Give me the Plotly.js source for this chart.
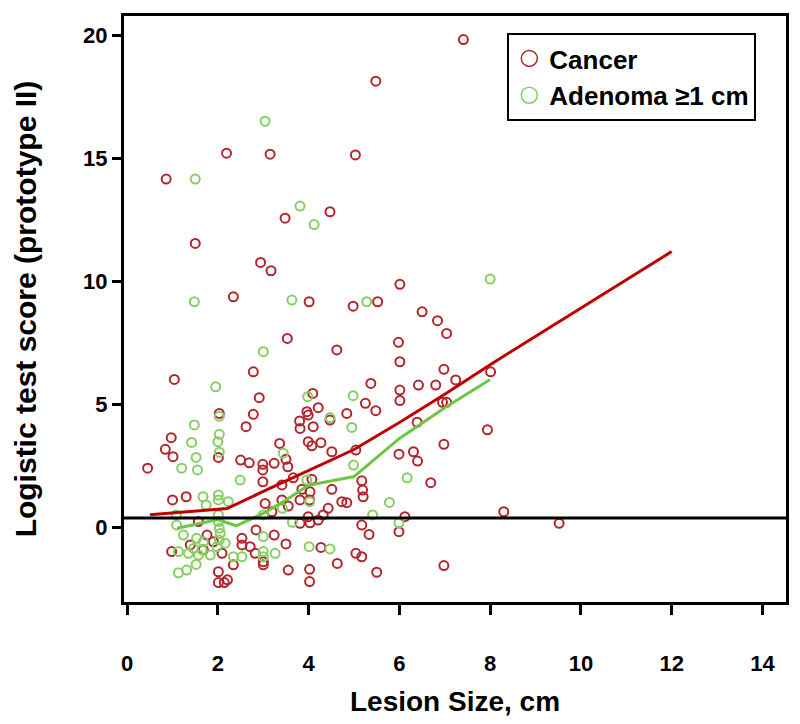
<!DOCTYPE html>
<html>
<head>
<meta charset="utf-8">
<script src="https://cdn.plot.ly/plotly-3.0.1.min.js"></script>
<style>
  body { margin: 0; background: #fff; }
</style>
</head>
<body>
<div id="scatter-plot" style="width:800px;height:724px;"></div>
<script>
// lesion size (cm) and logistic score for each cancer
var cancerSize = [7.41, 5.48, 2.19, 3.15, 5.03, 0.86, 3.48, 4.47, 1.5, 2.94, 3.17, 2.34, 4.01, 6.01, 4.98,
    5.52, 6.5, 6.84, 7.04, 5.98, 3.53, 4.62, 6.01, 6.98, 2.78, 1.04, 8.01, 7.24, 5.37, 6.01,
    6.42, 6.8, 6.01, 6.95, 7.04, 5.25, 5.48, 4.84, 2.91, 4.09, 2.03, 2.78, 2.62, 3.8, 3.96,
    3.99, 4.21, 4.1, 3.81, 4.47, 6.39, 7.94, 0.97, 0.84, 1.01, 3.36, 3.99, 4.07, 4.27, 4.51,
    5.04, 6.98, 5.99, 6.31, 6.4, 2.01, 2.5, 2.69, 0.45, 2.99, 2.99, 3.24, 3.5, 3.54, 2.99,
    3.41, 3.66, 3.85, 4.03, 6.69, 5.17, 4.07, 4.51, 5.19, 5.2, 4.02, 4.73, 4.84, 4.43, 4.32,
    4.21, 3.99, 4.03, 6.12, 5.17, 5.33, 5.99, 4.27, 5.04, 5.17, 4.63, 5.5, 6.98, 4.02, 4.02,
    8.3, 9.52, 1.0, 1.3, 3.41, 3.55, 3.04, 3.19, 3.81, 3.81, 1.57, 1.76, 1.39, 1.9, 2.53,
    2.53, 2.84, 3.24, 3.5, 2.71, 0.98, 1.68, 2.09, 2.82, 3.0, 3.0, 2.34, 2.01, 2.01, 2.14,
    2.21, 3.55];
var cancerScore = [19.82, 18.13, 15.2, 15.16, 15.13, 14.15, 12.56, 12.82, 11.53, 10.76, 10.42, 9.36, 9.16, 9.87, 8.98,
    9.16, 8.75, 8.39, 7.87, 7.51, 7.67, 7.2, 6.72, 6.41, 6.31, 6.0, 6.31, 5.98, 5.84, 5.57,
    5.77, 5.77, 5.14, 5.07, 5.07, 5.03, 4.73, 4.62, 5.26, 5.43, 4.62, 4.58, 4.08, 4.31, 4.69,
    4.55, 4.85, 4.08, 4.01, 4.35, 4.26, 3.95, 3.63, 3.16, 2.86, 3.4, 3.47, 3.3, 3.43, 3.06,
    3.13, 3.36, 2.96, 3.06, 2.68, 2.83, 2.72, 2.61, 2.39, 2.55, 2.32, 2.59, 2.75, 2.45, 1.84,
    1.71, 2.0, 1.53, 1.43, 1.8, 1.88, 1.94, 1.53, 1.5, 1.23, 1.1, 1.03, 0.99, 0.76, 0.49,
    0.28, 0.42, 0.17, 0.42, 0.08, -0.3, -0.19, -0.83, -1.07, -1.21, -1.48, -1.84, -1.57, -1.72, -2.22,
    0.62, 0.15, 1.1, 1.23, 1.1, 0.85, 0.96, 0.62, 1.1, 0.15, 0.22, -0.33, -0.73, -0.6, -0.46,
    -0.73, -0.12, -0.33, -0.69, -0.8, -1.0, -0.93, -1.07, -1.07, -1.41, -1.54, -1.54, -1.82, -2.26, -2.26,
    -2.15, -1.75];

// adenomas >= 1 cm
var adenomaSize = [3.04, 1.5, 3.81, 4.12, 1.48, 3.63, 5.28, 8.0, 3.0, 1.95, 3.98, 2.03, 1.48, 4.47, 4.98,
    4.95, 4.99, 6.17, 3.96, 4.02, 5.78, 5.41, 5.99, 4.01, 4.47, 2.03, 2.0, 1.42, 2.03, 1.52,
    1.2, 1.55, 3.44, 2.49, 1.67, 1.74, 2.01, 2.01, 2.23, 3.0, 3.64, 1.08, 1.09, 2.01, 2.01,
    2.03, 1.24, 1.53, 1.46, 1.68, 1.65, 2.05, 2.03, 1.98, 2.16, 3.0, 1.13, 1.35, 1.57, 1.83,
    3.0, 3.0, 3.26, 2.53, 2.34, 1.52, 1.31, 1.13, 3.42];
var adenomaScore = [16.5, 14.15, 13.05, 12.3, 9.16, 9.23, 9.16, 10.08, 7.13, 5.7, 5.3, 4.5, 4.15, 4.45, 5.34,
    4.05, 2.52, 2.0, 1.91, 1.03, 1.0, 0.49, 0.17, -0.8, -0.89, 3.77, 3.47, 3.44, 3.04, 2.83,
    2.39, 2.32, 3.0, 1.91, 1.23, 0.89, 1.3, 1.1, 1.03, 0.49, 0.19, 0.49, 0.08, 0.49, 0.22,
    -0.05, -0.33, -0.46, -0.87, -0.6, -0.93, -0.26, -0.53, -0.8, -0.66, -0.39, -1.0, -1.07, -1.14, -1.14,
    -1.0, -1.21, -1.07, -1.21, -1.21, -1.52, -1.75, -1.86, 0.76];

// smoothed trend lines
var cancerTrendX = [0.5, 2.2, 3, 4, 5, 6, 7, 8, 12];
var cancerTrendY = [0.5, 0.75, 1.45, 2.3, 3.15, 4.25, 5.4, 6.6, 11.2];
var adenomaTrendX = [1.1, 2.0, 2.4, 3, 3.5, 4, 5, 6, 7, 8];
var adenomaTrendY = [-0.05, 0.3, 0.05, 0.55, 1.1, 1.7, 2.05, 3.6, 4.85, 6.0];

// positivity cutoff
var cutoff = 0.37;

var red = "#b3262e";
var green = "#86cf63";

var data = [
    {x: cancerSize, y: cancerScore, mode: "markers", type: "scatter", showlegend: false,
        marker: {symbol: "circle-open", size: 9, color: red, line: {width: 2, color: red}}},
    {x: adenomaSize, y: adenomaScore, mode: "markers", type: "scatter", showlegend: false,
        marker: {symbol: "circle-open", size: 9, color: green, line: {width: 2, color: green}}},
    {x: cancerTrendX, y: cancerTrendY, mode: "lines", type: "scatter", showlegend: false,
        line: {color: "#c00000", width: 3}},
    {x: adenomaTrendX, y: adenomaTrendY, mode: "lines", type: "scatter", showlegend: false,
        line: {color: "#6dc646", width: 3}},
    // legend entries only
    {x: [null], y: [null], name: "Cancer", mode: "markers", type: "scatter",
        marker: {symbol: "circle-open", size: 17, color: red, line: {width: 1.5, color: red}}},
    {x: [null], y: [null], name: "Adenoma \u22651 cm", mode: "markers", type: "scatter",
        marker: {symbol: "circle-open", size: 17, color: green, line: {width: 1.5, color: green}}}
];

var axisFont = {family: "Liberation Sans, Arial, sans-serif", size: 22, color: "#000", weight: "bold"};

var layout = {
    width: 800,
    height: 724,
    margin: {l: 124, r: 14, t: 16, b: 122},
    paper_bgcolor: "#fff",
    plot_bgcolor: "#fff",
    xaxis: {
        range: [-0.07, 14.52],
        dtick: 2,
        tick0: 0,
        showgrid: false,
        zeroline: false,
        showline: true,
        mirror: true,
        linecolor: "#000",
        linewidth: 3,
        ticks: "outside",
        ticklen: 10,
        tickwidth: 3,
        tickcolor: "#000",
        ticklabelstandoff: 30,
        tickfont: axisFont,
        title: {text: "<b>Lesion Size, cm</b>", standoff: 16,
            font: {family: "Liberation Sans, Arial, sans-serif", size: 28, color: "#000"}}
    },
    yaxis: {
        range: [-3.05, 20.78],
        dtick: 5,
        tick0: 0,
        showgrid: false,
        zeroline: false,
        showline: true,
        mirror: true,
        linecolor: "#000",
        linewidth: 3,
        ticks: "outside",
        ticklen: 9,
        tickwidth: 3,
        tickcolor: "#000",
        tickfont: axisFont,
        title: {text: "<b>Logistic test score (prototype II)</b>", standoff: 38,
            font: {family: "Liberation Sans, Arial, sans-serif", size: 30, color: "#000"}}
    },
    legend: {
        x: 0.579,
        y: 0.971,
        xanchor: "left",
        yanchor: "top",
        bordercolor: "#000",
        borderwidth: 2,
        bgcolor: "#fff",
        font: {family: "Liberation Sans, Arial, sans-serif", size: 26, color: "#000", weight: "bold"}
    },
    shapes: [
        {type: "line", xref: "paper", x0: 0, x1: 1, yref: "y", y0: cutoff, y1: cutoff,
            line: {color: "#000", width: 3}}
    ]
};

Plotly.newPlot("scatter-plot", data, layout, {displayModeBar: false});
</script>
</body>
</html>
